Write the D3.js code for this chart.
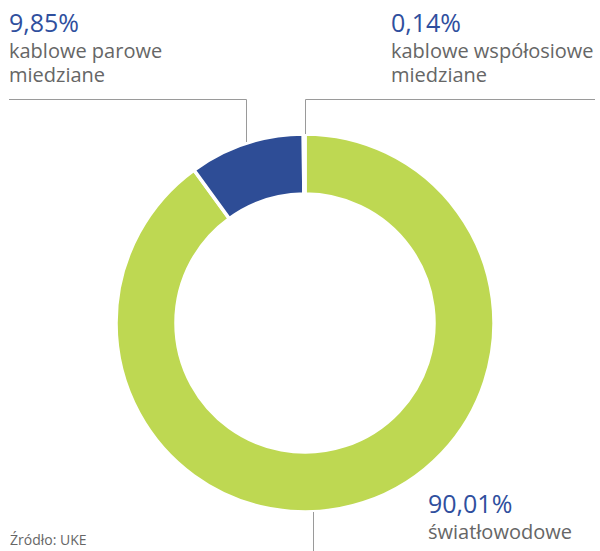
<!DOCTYPE html>
<html><head><meta charset="utf-8">
<script src="https://cdn.jsdelivr.net/npm/d3@7"></script>
<style>body{margin:0;background:#fff}svg{display:block}text{font-family:"Open Sans",sans-serif}</style>
</head><body>
<svg id="c" width="600" height="551"></svg>
<script>
const categories = ["światłowodowe", "kablowe parowe miedziane", "kablowe współosiowe miedziane"];
const values = [90.01, 9.85, 0.14];
const valueLabels = ["90,01%", "9,85%", "0,14%"];
const colors = ["#bed852", "#2e4d96", "#9fb0d6"];

const svg = d3.select("#c");
const cx = 305, cy = 323, R = 189, r = 129;
const pie = d3.pie().sort(null).value(d => d)(values);
const arc = d3.arc().innerRadius(r).outerRadius(R);
const g = svg.append("g").attr("transform", `translate(${cx},${cy})`);
g.selectAll("path").data(pie).join("path")
  .attr("d", arc).attr("fill", (d, i) => colors[i])
  .attr("stroke", "#fff").attr("stroke-width", 3.5);

const lc = "#9a9a9a";
// leader lines
svg.append("path").attr("d", "M9,99.5H246.5V142").attr("fill", "none").attr("stroke", lc).attr("stroke-width", 1);
svg.append("path").attr("d", "M305.5,134V99.5H595").attr("fill", "none").attr("stroke", lc).attr("stroke-width", 1);
svg.append("path").attr("d", "M313.5,512V551").attr("fill", "none").attr("stroke", lc).attr("stroke-width", 1);

const blue = "#2f4f9e", grey = "#666";
function label(x, y, pct, lines) {
  svg.append("text").attr("x", x).attr("y", y).attr("fill", blue).attr("font-size", 25).text(pct);
  lines.forEach((l, i) => svg.append("text").attr("x", x).attr("y", y + 26 + i * 24.5)
    .attr("fill", grey).attr("font-size", 20).text(l));
}
label(9, 31.5, valueLabels[1], ["kablowe parowe", "miedziane"]);
label(391, 31.5, valueLabels[2], ["kablowe współosiowe", "miedziane"]);
label(428, 513, valueLabels[0], ["światłowodowe"]);
svg.append("text").attr("x", 10).attr("y", 545).attr("fill", grey).attr("font-size", 14).text("Źródło: UKE");
</script>
</body></html>
